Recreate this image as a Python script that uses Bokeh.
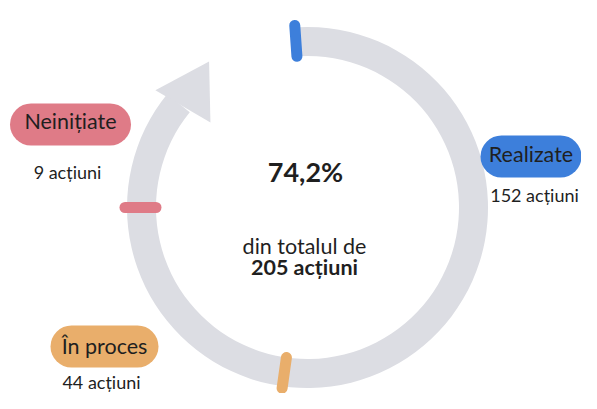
import math
from bokeh.plotting import figure
from bokeh.models import Range1d
from bokeh.core.properties import value
from bokeh.embed import file_html
from bokeh.resources import INLINE

# ---- data ----
categories = ["Realizate", "În proces", "Neinițiate"]
counts = [152, 44, 9]
total_actions = 205
share_label = "74,2%"
count_labels = [f"{c} acțiuni" for c in counts]

# ---- style / layout ----
colors = ["#3d7fdb", "#e9ae6b", "#df7b87"]
ring_color = "#dcdde3"
text_color = "#1f1f1f"
FONT = value("Lato")

W, H = 581, 393
IMG_H = 409      # reference height (screen coordinates, y downwards)
BASE_FIX = 0.42  # renderer baseline correction (em)

def Y(ys):
    return IMG_H - ys

def TY(ys, size):
    return Y(ys) + BASE_FIX * size

p = figure(width=W, height=H, x_range=Range1d(0, W), y_range=Range1d(IMG_H - H, IMG_H),
           output_backend="svg", toolbar_location=None, min_border=0)
p.axis.visible = False
p.grid.visible = False
p.outline_line_color = None
p.background_fill_color = "white"
p.border_fill_color = "white"

# ring geometry
cx, cy = 307, Y(207)
R, T = 166, 29
ring_start, ring_end = 93, 141

p.annular_wedge(x=cx, y=cy, inner_radius=R - T / 2, outer_radius=R + T / 2,
                start_angle=math.radians(ring_start), end_angle=math.radians(ring_end),
                direction="clock", fill_color=ring_color, line_color=None)

def polar(ang, r):
    a = math.radians(ang)
    return cx + r * math.cos(a), cy + r * math.sin(a)

# arrow head
head = [polar(124, 176), polar(142.4, 192), polar(138.8, 129)]
p.patch([h[0] for h in head], [h[1] for h in head], fill_color=ring_color, line_color=None)

# markers on ring
marker_angles = [94, 262, 180]
mR, mhalf = 167, 15.5
mx0, my0, mx1, my1 = [], [], [], []
for a in marker_angles:
    x0, y0 = polar(a, mR - mhalf)
    x1, y1 = polar(a, mR + mhalf)
    mx0.append(x0); my0.append(y0); mx1.append(x1); my1.append(y1)
p.segment(x0=mx0, y0=my0, x1=mx1, y1=my1, line_color=colors, line_width=11, line_cap="round")

# pills
pill_cx = [530.5, 104, 70]
pill_cy = [Y(156), Y(346), Y(124)]
pill_w = [101, 108, 121]
pill_h = 42
px0 = [c - (w / 2 - pill_h / 2) for c, w in zip(pill_cx, pill_w)]
px1 = [c + (w / 2 - pill_h / 2) for c, w in zip(pill_cx, pill_w)]
p.segment(x0=px0, y0=pill_cy, x1=px1, y1=pill_cy, line_color=colors, line_width=pill_h, line_cap="round")

# pill labels
PS = 21.5
label_base = [TY(163, PS), TY(355, PS), TY(130, PS)]
p.text(x=pill_cx, y=label_base, text=categories, text_font=FONT, text_font_size=f"{PS}px",
       text_color=text_color, text_align="center", text_baseline="alphabetic")

# count labels
CS = 18
count_x = [534, 101, 67]
count_base = [TY(202, CS), TY(389, CS), TY(179, CS)]
p.text(x=count_x, y=count_base, text=count_labels, text_font=FONT, text_font_size=f"{CS}px",
       text_color=text_color, text_align="center", text_baseline="alphabetic")

# centre texts
BS, SS = 27, 21.5
p.text(x=[305], y=[TY(182, BS)], text=[share_label], text_font=FONT, text_font_size=f"{BS}px",
       text_font_style="bold", text_color=text_color, text_align="center", text_baseline="alphabetic")
p.text(x=[304], y=[TY(255, SS)], text=["din totalul de"], text_font=FONT, text_font_size=f"{SS}px",
       text_color=text_color, text_align="center", text_baseline="alphabetic")
p.text(x=[304], y=[TY(276, SS)], text=[f"{total_actions} acțiuni"], text_font=FONT, text_font_size=f"{SS}px",
       text_font_style="bold", text_color=text_color, text_align="center", text_baseline="alphabetic")

open("out.html", "w").write(file_html(p, INLINE))
